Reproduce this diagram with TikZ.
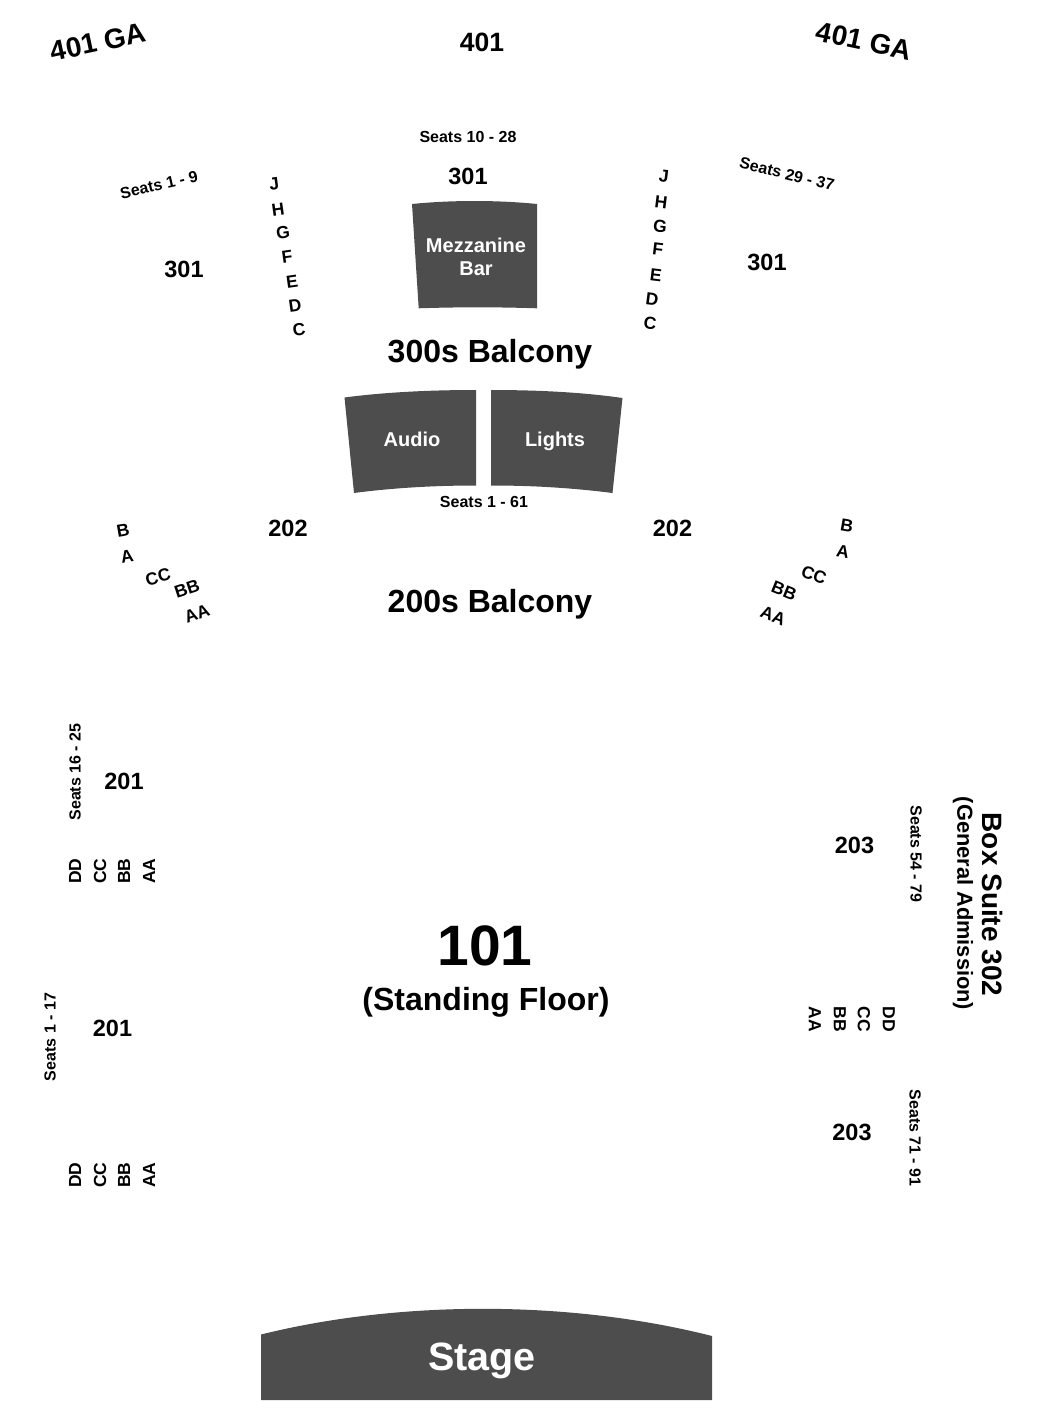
\documentclass[tikz,border=0pt]{standalone}
\usepackage{fontspec}
\setmainfont{Liberation Sans}
\tikzset{
block/.style={fill=blockgray,draw=none},
txt/.style={inner sep=0pt,font=\bfseries\fontsize{#1}{#1}\selectfont,text=black},
sect/.style={txt=23.5},
seats/.style={txt=16},
row/.style={txt=17.5},
big/.style={txt=32},
inblock/.style={txt=20,text=white,align=center}
}
\definecolor{blockgray}{HTML}{4D4D4D}
\begin{document}
\begin{tikzpicture}[x=1pt,y=-1pt]
\useasboundingbox (0,0) rectangle (1050,1416);
%top
\node[txt=28,rotate=12] (ga-left) at (98,42) {401 GA};
\node[txt=26.5] (ga-mid) at (482,42) {401};
\node[txt=28,rotate=-12] (ga-right) at (864,41) {401 GA};
%301
\node[seats] (s10) at (468,137) {Seats 10 - 28};
\node[seats,rotate=13] (s1) at (159,185) {Seats 1 - 9};
\node[seats,rotate=-14] (s29) at (787,174) {Seats 29 - 37};
\node[sect] (m301) at (468,176) {301};
\node[sect] (l301) at (184,269) {301};
\node[sect] (r301) at (767,262) {301};
\fill[block] (412,204) .. controls (452,200) and (497,200) .. (537,204) -- (537,308.3) .. controls (497,307) and (458,307) .. (418.7,308.3) -- cycle;
\node[inblock] (bar) at (476,257) {Mezzanine\\[3.5pt]Bar};
\foreach \t/\x/\y in {J/274/184,H/278/210,G/283/233,F/287/257,E/292/282,D/295/306,C/299/330}
  \node[row,rotate=8] (l\t) at (\x,\y) {\t};
\foreach \t/\x/\y in {J/664/176,H/661/202,G/660/226,F/658/249,E/656/275,D/652/299,C/650/323}
  \node[row,rotate=-7] (r\t) at (\x,\y) {\t};
\node[big] (b300) at (490,354) {300s Balcony};
%audio lights
\fill[block] (344.5,397.5) .. controls (386,392) and (432,390) .. (476,390) -- (476,485.5) .. controls (433,485.5) and (392,488) .. (354,493) -- cycle;
\fill[block] (491,390) .. controls (535,390) and (581,392) .. (622.5,398) -- (612.5,493) .. controls (573,488) and (534,485.5) .. (491,485.5) -- cycle;
\node[inblock] (audio) at (412,439) {Audio};
\node[inblock] (lights) at (555,441) {Lights};
\node[seats] (s61) at (484,502) {Seats 1 - 61};
%202
\node[sect] (l202) at (288,528) {202};
\node[sect] (r202) at (672.5,528) {202};
\node[big] (b200) at (490,604) {200s Balcony};
\node[row,rotate=10] (lB) at (123,530) {B};
\node[row,rotate=10] (lA) at (127,556) {A};
\node[row,rotate=15] (lCC) at (158,577) {CC};
\node[row,rotate=18] (lBB) at (187,589) {BB};
\node[row,rotate=20] (lAA) at (197,614) {AA};
\node[row,rotate=-10] (rB) at (847,526) {B};
\node[row,rotate=-10] (rA) at (843,552) {A};
\node[row,rotate=-20] (rCC) at (814,575) {CC};
\node[row,rotate=-22] (rBB) at (784,591) {BB};
\node[row,rotate=-22] (rAA) at (773,616) {AA};
%201
\node[seats,rotate=90] (s16) at (75,772) {Seats 16 - 25};
\node[sect] (u201) at (124,781) {201};
\node[seats,rotate=90] (s117) at (50,1037) {Seats 1 - 17};
\node[sect] (d201) at (112.5,1028) {201};
\foreach \t/\x in {DD/75,CC/100,BB/124,AA/149}{
  \node[row,rotate=90] (u\t) at (\x,871) {\t};
  \node[row,rotate=90] (d\t) at (\x,1175) {\t};
}
%floor
\node[txt=57] (f101) at (485,946) {101};
\node[big] (floor) at (486,1002) {(Standing Floor)};
%203
\node[sect] (u203) at (854.5,845) {203};
\node[sect] (d203) at (852,1132) {203};
\node[seats,rotate=-90] (s54) at (916,854) {Seats 54 - 79};
\node[seats,rotate=-90] (s71) at (915,1138) {Seats 71 - 91};
\foreach \t/\x in {DD/889,CC/864,BB/840,AA/815}
  \node[row,rotate=-90] (r\t) at (\x,1019) {\t};
\node[txt=28,rotate=-90] (box) at (992,904.5) {Box Suite 302};
\node[txt=21.8,rotate=-90] (ga) at (963,903.5) {(General Admission)};
%stage
\fill[block] (261,1334.5) .. controls (400,1300) and (570,1300) .. (712,1336) -- (712,1400) -- (261,1400) -- cycle;
\node[txt=39.5,text=white] (stage) at (482,1361) {Stage};
\end{tikzpicture}
\end{document}
